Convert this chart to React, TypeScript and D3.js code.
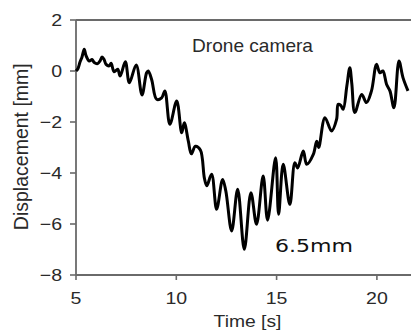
import React from "react";
import * as d3 from "d3";

const times = [
  5.0, 5.1, 5.2, 5.3, 5.41, 5.5, 5.66, 5.8, 5.91, 6.08, 6.2, 6.3, 6.4, 6.5, 6.66, 6.75, 6.9, 7.08, 7.2, 7.46,
  7.66, 8.0, 8.29, 8.52, 8.6, 8.77, 9.02, 9.27, 9.43, 9.68, 10.02, 10.27, 10.4, 10.6, 10.75, 10.95, 11.2, 11.4,
  11.52, 11.76, 12.01, 12.31, 12.47, 12.76, 13.06, 13.39, 13.72, 14.0, 14.33, 14.55, 14.95, 15.1, 15.33, 15.66,
  15.91, 16.05, 16.33, 16.5, 16.83, 17.0, 17.1, 17.41, 17.74, 17.99, 18.07, 18.2, 18.32, 18.5, 18.65, 18.75,
  18.9, 19.24, 19.48, 19.73, 19.98, 20.15, 20.3, 20.48, 20.65, 20.85, 21.1, 21.3, 21.55,
];
const displacement = [
  0.0, 0.1, 0.35, 0.55, 0.85, 0.6, 0.39, 0.45, 0.33, 0.29, 0.4, 0.55, 0.45, 0.26, 0.2, 0.3, -0.03, 0.07, -0.2, 0.36,
  -0.46, 0.24, -0.94, -0.07, 0.0, -0.33, -1.11, -1.05, -0.78, -2.09, -1.18, -2.42, -2.03, -2.75, -3.25, -2.95, -3.1, -4.2,
  -4.5, -4.05, -5.42, -4.25, -4.71, -6.27, -4.64, -6.99, -4.77, -6.01, -4.12, -5.85, -3.4, -5.62, -3.66, -5.23,
  -3.6, -3.8, -3.14, -3.66, -3.27, -2.75, -3.0, -1.83, -2.35, -1.9, -1.31, -1.35, -1.5, -0.6, 0.13, -0.5,
  -1.63, -0.92, -1.24, -0.78, 0.26, -0.07, 0.0, -0.52, -0.78, -1.44, 0.39, -0.26, -0.78,
];
const xTicks = [5, 10, 15, 20];
const yTicks = [2, 0, -2, -4, -6, -8];
const xLabel = "Time [s]";
const yLabel = "Displacement [mm]";
const seriesLabel = "Drone camera";
const annotation = "6.5mm";

export default function App() {
  const x = d3.scaleLinear().domain([5, 21.7]).range([76, 411]);
  const y = d3.scaleLinear().domain([-8, 2]).range([275, 20]);
  const pts: [number, number][] = times.map((t, i) => [t, displacement[i]]);
  const line = d3
    .line<[number, number]>()
    .x((d) => x(d[0]))
    .y((d) => y(d[1]))
    .curve(d3.curveCatmullRom.alpha(0.5));
  const axisColor = "#6a6a6a";
  const font = "'Liberation Sans', Arial, Helvetica, sans-serif";
  const fmt = (v: number) => (v < 0 ? "\u2212" + Math.abs(v) : String(v));
  return (
    <svg
      width={411}
      height={331}
      style={{ position: "absolute", left: 0, top: 0, background: "#fff" }}
      fontFamily={font}
    >
      <rect x={0} y={0} width={411} height={331} fill="#fff" />
      <line x1={x(5)} x2={411} y1={y(2)} y2={y(2)} stroke={axisColor} strokeWidth={1.8} />
      <line x1={x(5)} x2={411} y1={y(-8)} y2={y(-8)} stroke={axisColor} strokeWidth={1.8} />
      <line x1={x(5)} x2={x(5)} y1={y(2)} y2={y(-8)} stroke={axisColor} strokeWidth={1.8} />
      {yTicks.map((v) => (
        <g key={"y" + v}>
          <line x1={x(5) - 6} x2={x(5)} y1={y(v)} y2={y(v)} stroke={axisColor} strokeWidth={1.6} />
          <g transform={`translate(62,${y(v)}) scale(1.15,1)`}>
            <text textAnchor="end" dy="0.36em" fontSize={17} fill="#2a2a2a">
              {fmt(v)}
            </text>
          </g>
        </g>
      ))}
      {xTicks.map((v) => (
        <g key={"x" + v}>
          <line x1={x(v)} x2={x(v)} y1={y(-8)} y2={y(-8) + 5} stroke={axisColor} strokeWidth={1.6} />
          <g transform={`translate(${x(v)},303.5) scale(1.15,1)`}>
            <text textAnchor="middle" fontSize={17} fill="#2a2a2a">
              {v}
            </text>
          </g>
        </g>
      ))}
      <g transform="translate(247.5,326.5) scale(1.17,1)">
        <text textAnchor="middle" fontSize={16.5} fill="#2a2a2a">
          {xLabel}
        </text>
      </g>
      <text
        transform="translate(27.5,146.7) rotate(-90)"
        textAnchor="middle"
        fontSize={19.5}
        fill="#2a2a2a"
      >
        {yLabel}
      </text>
      <text x={192} y={52} fontSize={19} fill="#2a2a2a" textLength={121} lengthAdjust="spacingAndGlyphs">
        {seriesLabel}
      </text>
      <path d={line(pts) || ""} fill="none" stroke="#000" strokeWidth={3} strokeLinejoin="round" />
      <text
        x={275}
        y={251.5}
        fontSize={18.5}
        fontFamily="'DejaVu Sans', sans-serif"
        fill="#111"
        textLength={78}
        lengthAdjust="spacingAndGlyphs"
      >
        {annotation}
      </text>
    </svg>
  );
}
